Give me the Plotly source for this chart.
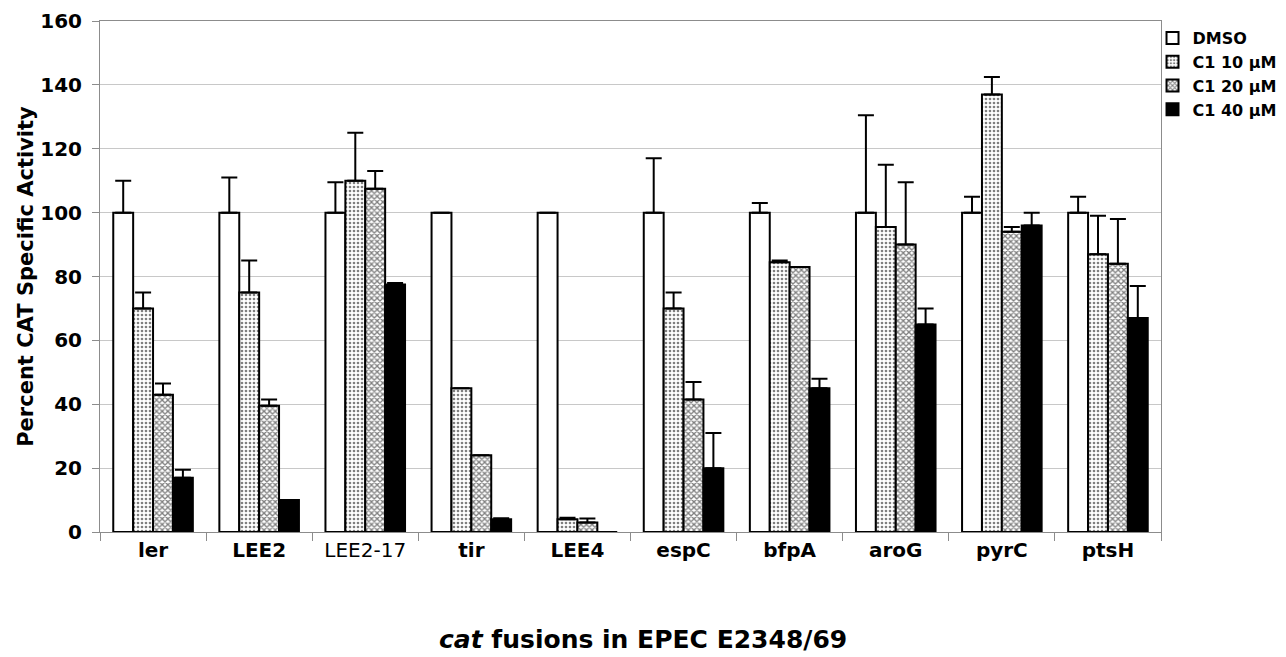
import plotly.graph_objects as go

categories = ["ler", "LEE2", "LEE2-17", "tir", "LEE4", "espC", "bfpA", "aroG", "pyrC", "ptsH"]
tick_labels = ["<b>ler</b>", "<b>LEE2</b>", "LEE2-17", "<b>tir</b>", "<b>LEE4</b>",
               "<b>espC</b>", "<b>bfpA</b>", "<b>aroG</b>", "<b>pyrC</b>", "<b>ptsH</b>"]
series_names = ["DMSO", "C1 10 µM", "C1 20 µM", "C1 40 µM"]
x_title = "<b><i>cat</i> fusions in EPEC E2348/69</b>"
y_title = "Percent CAT Specific Activity"

dmso = [100, 100, 100, 100, 100, 100, 100, 100, 100, 100]
c1_10 = [70, 75, 110, 45, 4, 70, 84.5, 95.5, 137, 87]
c1_20 = [43, 39.5, 107.5, 24, 3, 41.5, 83, 90, 94, 84]
c1_40 = [17, 10, 77.5, 4, 0, 20, 45, 65, 96, 67]

dmso_err = [10, 11, 9.5, 0, 0, 17, 3, 30.5, 5, 5]
c1_10_err = [5, 10, 15, 0, 0.5, 5, 0.5, 19.5, 5.5, 12]
c1_20_err = [3.5, 2, 5.5, 0, 1.2, 5.5, 0, 19.5, 1.5, 14]
c1_40_err = [2.5, 0, 0.5, 0.3, 0, 11, 3, 5, 4, 10]

values = [dmso, c1_10, c1_20, c1_40]
errors = [dmso_err, c1_10_err, c1_20_err, c1_40_err]

styles = [
    dict(color="white", pattern=None),
    dict(color="white", pattern=dict(shape=".", size=4, solidity=0.35, fgcolor="black", bgcolor="white", fillmode="overlay")),
    dict(color="white", pattern=dict(shape="x", size=4, solidity=0.55, fgcolor="black", bgcolor="white", fillmode="overlay")),
    dict(color="black", pattern=None),
]

FONT = "DejaVu Sans, Liberation Sans, Arial, sans-serif"

fig = go.Figure()
for name, vals, errs, st in zip(series_names, values, errors, styles):
    marker = dict(color=st["color"], line=dict(color="black", width=2))
    if st["pattern"] is not None:
        marker["pattern"] = st["pattern"]
    fig.add_trace(go.Bar(
        x=categories, y=vals, name=name, marker=marker,
        error_y=dict(type="data", array=errs, arrayminus=[0] * len(errs),
                     symmetric=False, color="black", thickness=2, width=8),
    ))

fig.update_layout(
    width=1278, height=649,
    barmode="group", bargap=0.25, bargroupgap=0,
    plot_bgcolor="white", paper_bgcolor="white",
    margin=dict(l=92, r=125, t=13, b=125, autoexpand=False),
    font=dict(family=FONT, size=16, color="black"),
    legend=dict(x=0.992, y=1.0, xanchor="left", yanchor="top",
                font=dict(family=FONT, size=16, color="black", weight="bold"),
                tracegroupgap=0, itemwidth=30, bgcolor="rgba(0,0,0,0)"),
    showlegend=True,
    annotations=[dict(text=x_title, xref="paper", yref="paper", x=0.512, y=-0.211,
                      xanchor="center", yanchor="middle", showarrow=False,
                      font=dict(family=FONT, size=25, color="black"))],
)

fig.update_yaxes(
    range=[0, 160], dtick=20, tick0=0,
    showgrid=True, gridcolor="#c8c8c8", gridwidth=1,
    showline=True, linecolor="#8c8c8c", linewidth=1, mirror=True,
    ticks="outside", ticklen=7, tickcolor="#8c8c8c", ticklabelstandoff=6,
    tickfont=dict(family=FONT, size=20, color="black", weight="bold"),
    title=dict(text=y_title, standoff=0,
               font=dict(family=FONT, size=21, color="black", weight="bold")),
    zeroline=False,
)
fig.update_xaxes(
    showline=True, linecolor="#8c8c8c", linewidth=1, mirror=True,
    ticks="outside", ticklen=8, tickcolor="#8c8c8c", tickson="boundaries",
    tickmode="array", tickvals=categories, ticktext=tick_labels,
    tickfont=dict(family=FONT, size=20, color="black"),
)

fig.write_html("out.html")
